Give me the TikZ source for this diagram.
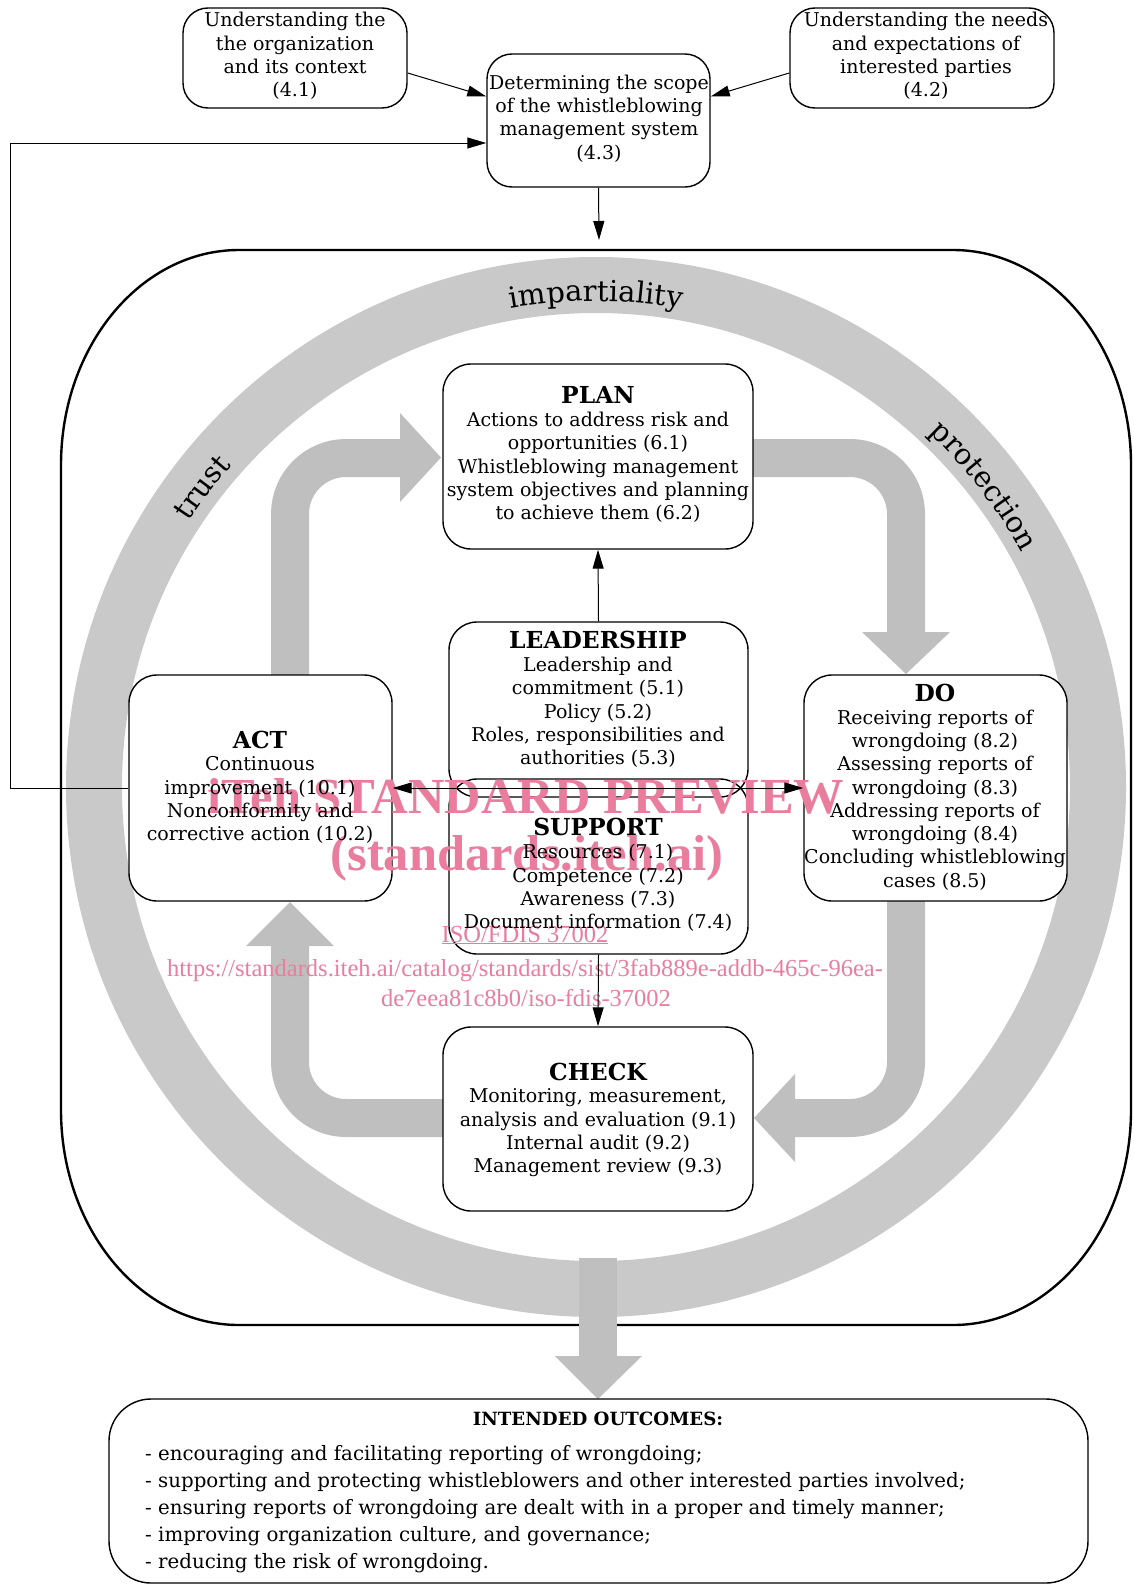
\documentclass[tikz,border=0pt]{standalone}
\usepackage{fontspec}
\setmainfont{DejaVu Serif}
\newfontfamily\wmfont{Liberation Serif}
\usetikzlibrary{arrows.meta,calc,decorations.text}

\definecolor{ringgray}{RGB}{201,201,201}
\definecolor{arrgray}{RGB}{191,191,191}
\definecolor{wmpink}{RGB}{234,125,158}

\newcommand\bodyfont{\fontsize{19}{23.3}\selectfont}
\newcommand\outfont{\fontsize{19.8}{27}\selectfont}
\newcommand\titlefont{\fontsize{23.4}{25}\selectfont\bfseries}
\newcommand\ringfont{\fontsize{29}{31}\selectfont}

\begin{document}
\begin{tikzpicture}[x=1pt,y=-1pt,
  box/.style={draw, line width=1.4pt, rounded corners=28pt, fill=white, inner sep=0pt},
  obox/.style={draw, line width=1.4pt, rounded corners=28pt, inner sep=0pt},
  txt/.style={inner sep=0pt, align=center, font=\bodyfont},
  ttl/.style={inner sep=0pt, font=\titlefont},
  conn/.style={line width=1pt, -{Triangle[length=19pt,width=11pt]}},
  garrow/.style={draw=arrgray, line width=38pt, rounded corners=56pt},
  ghead/.style={fill=arrgray},
  wm/.style={text=wmpink, inner sep=0pt, anchor=base},
  ringtxt/.style={decorate, decoration={text along path, text align=center, text={|\ringfont|#1}}}
]
\useasboundingbox (0,0) rectangle (1134,1584);

% big rounded frame
\draw[line width=2.4pt] (239,250) -- (953,250)
  .. controls (1051.3,250) and (1131,346.3) .. (1131,465) -- (1131,1110)
  .. controls (1131,1228.7) and (1051.3,1325) .. (953,1325) -- (239,1325)
  .. controls (140.7,1325) and (61,1228.7) .. (61,1110) -- (61,465)
  .. controls (61,346.3) and (140.7,250) .. (239,250) -- cycle;
\coordinate (bigtop) at (599,240);

% ring
\fill[ringgray, even odd rule] (596,787) circle[radius=530] (596,787) circle[radius=474];

% grey PDCA arrows
\draw[garrow] (290,675) -- (290,458) -- (402,458);
\fill[ghead] (400,413) -- (400,502) -- (441,457.5) -- cycle;
\draw[garrow] (753,458) -- (906,458) -- (906,634);
\fill[ghead] (862,632) -- (950,632) -- (906,674) -- cycle;
\draw[garrow] (906,901) -- (906,1118) -- (793,1118);
\fill[ghead] (795,1074) -- (795,1162) -- (754,1118) -- cycle;
\draw[garrow] (443,1118) -- (290,1118) -- (290,944);
\fill[ghead] (246,946) -- (334,946) -- (290,902) -- cycle;
\draw[draw=arrgray, line width=38pt] (598,1258) -- (598,1358);
\fill[ghead] (555,1356) -- (642,1356) -- (598,1399) -- cycle;

% ring labels
\path[ringtxt=impartiality] plot[samples=41, domain=-115:-65] ({596+486*cos(\x)},{787+486*sin(\x)});
\path[ringtxt=trust] plot[samples=41, domain=-167.7:-117.7] ({596+486*cos(\x)},{787+486*sin(\x)});
\path[ringtxt=protection] plot[samples=41, domain=-62.8:-12.8] ({596+486*cos(\x)},{787+486*sin(\x)});

% boxes
\node[box, minimum width=224pt, minimum height=100pt, rounded corners=25pt] (b41) at (295,58) {};
\node[box, minimum width=223pt, minimum height=133pt, rounded corners=25pt] (b43) at (598.5,120.5) {};
\node[box, minimum width=264pt, minimum height=100pt, rounded corners=25pt] (b42) at (922,58) {};
\node[box, minimum width=310pt, minimum height=185pt] (plan) at (598,456.5) {};
\node[obox, minimum width=299pt, minimum height=175pt] (lead) at (598.5,709.5) {};
\node[obox, minimum width=299pt, minimum height=175pt] (supp) at (598.5,866.5) {};
\node[box, minimum width=263pt, minimum height=226pt] (act) at (260.5,788) {};
\node[box, minimum width=263pt, minimum height=226pt] (do) at (935.5,788) {};
\node[box, minimum width=310pt, minimum height=184pt] (check) at (598,1119) {};
\node[box, minimum width=979pt, minimum height=184pt, rounded corners=42pt] (outc) at (598.5,1491) {};

% watermark
\node[wm, font=\wmfont\bfseries\fontsize{50.5}{55}\selectfont] (wm1) at (526,813) {iTeh STANDARD PREVIEW};
\node[wm, font=\wmfont\bfseries\fontsize{50.5}{55}\selectfont] (wm2) at (527,870) {(standards.iteh.ai)};
\node[wm, font=\wmfont\fontsize{24.5}{27}\selectfont] (wm3) at (525,942) {\underline{ISO/FDIS 37002}};
\node[wm, font=\wmfont\fontsize{24.5}{27}\selectfont] (wm4) at (525,976) {https://standards.iteh.ai/catalog/standards/sist/3fab889e-addb-465c-96ea-};
\node[wm, font=\wmfont\fontsize{24.5}{27}\selectfont] (wm5) at (526,1006) {de7eea81c8b0/iso-fdis-37002};

% connectors
\coordinate (fbk) at (10,788);
\draw[conn] ($(b41.east)+(0,15)$) -- ($(b43.west)+(0,-24)$);
\draw[conn] ($(b42.west)+(0,15)$) -- ($(b43.east)+(0,-24)$);
\draw[conn] (b43.south) -- (bigtop);
\draw[conn] (act.west) -- (fbk) |- ($(b43.west)+(0,22.5)$);
\draw[line width=1pt, {Triangle[length=19pt,width=11pt]}-{Triangle[length=19pt,width=11pt]}] (act.east) -- (do.west);
\draw[conn] (lead.north) -- (plan.south);
\draw[conn] (supp.south) -- (check.north);

% texts
\node[txt] (x41) at (295,57) {\strut Understanding the\\\strut the organization\\\strut and its context\\\strut (4.1)};
\node[txt] (x43) at (599,119.5) {\strut Determining the scope\\\strut of the whistleblowing\\\strut management system\\\strut (4.3)};
\node[txt] (x42) at (926,57) {\strut Understanding the needs\\\strut and expectations of\\\strut interested parties\\\strut (4.2)};

\node[ttl] (tplan) at (598,395) {PLAN};
\node[txt] (xplan) at (598,468.5) {\strut Actions to address risk and\\\strut opportunities (6.1)\\\strut Whistleblowing management\\\strut system objectives and planning\\\strut to achieve them (6.2)};

\node[ttl] (tlead) at (598,640) {LEADERSHIP};
\node[txt] (xlead) at (598,713.5) {\strut Leadership and\\\strut commitment (5.1)\\\strut Policy (5.2)\\\strut Roles, responsibilities and\\\strut authorities (5.3)};

\node[ttl] (tsupp) at (598,827) {SUPPORT};
\node[txt] (xsupp) at (598,889) {\strut Resources (7.1)\\\strut Competence (7.2)\\\strut Awareness (7.3)\\\strut Document information (7.4)};

\node[ttl] (tact) at (260,740) {ACT};
\node[txt] (xact) at (260,801) {\strut Continuous\\\strut improvement (10.1)\\\strut Nonconformity and\\\strut corrective action (10.2)};

\node[ttl] (tdo) at (935,693) {DO};
\node[txt] (xdo) at (935,801) {\strut Receiving reports of\\\strut wrongdoing (8.2)\\\strut Assessing reports of\\\strut wrongdoing (8.3)\\\strut Addressing reports of\\\strut wrongdoing (8.4)\\\strut Concluding whistleblowing\\\strut cases (8.5)};

\node[ttl] (tcheck) at (598,1072) {CHECK};
\node[txt] (xcheck) at (598,1133) {\strut Monitoring, measurement,\\\strut analysis and evaluation (9.1)\\\strut Internal audit (9.2)\\\strut Management review (9.3)};

\node[inner sep=0pt, font=\fontsize{18.2}{20}\selectfont\bfseries] (tout) at (598,1419) {INTENDED OUTCOMES:};
\node[inner sep=0pt, align=left, font=\outfont, anchor=west] (xout) at (145,1509) {\strut - encouraging and facilitating reporting of wrongdoing;\\\strut - supporting and protecting whistleblowers and other interested parties involved;\\\strut - ensuring reports of wrongdoing are dealt with in a proper and timely manner;\\\strut - improving organization culture, and governance;\\\strut - reducing the risk of wrongdoing.};
\end{tikzpicture}
\end{document}
